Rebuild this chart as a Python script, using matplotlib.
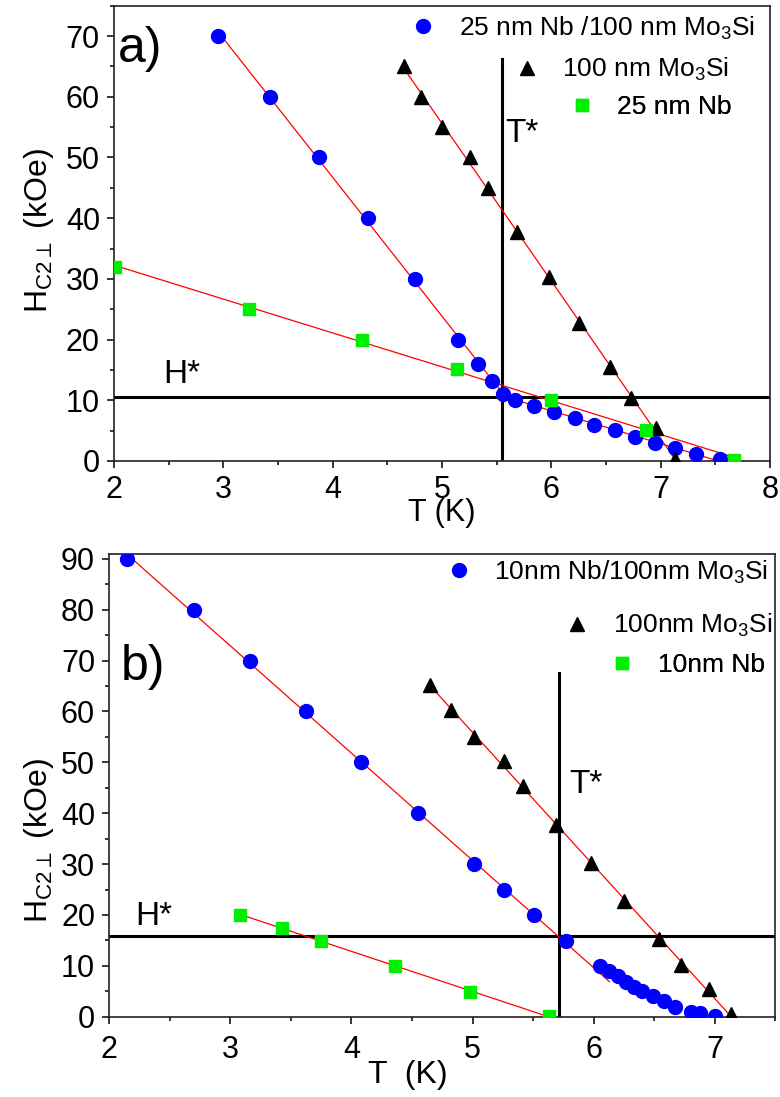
import numpy as np
import matplotlib
matplotlib.use('Agg')
import matplotlib.pyplot as plt
from matplotlib.ticker import MultipleLocator

plt.rcParams['font.family'] = ['Liberation Sans', 'DejaVu Sans']
plt.rcParams['mathtext.fontset'] = 'custom'
plt.rcParams['mathtext.rm'] = 'Liberation Sans'
plt.rcParams['mathtext.it'] = 'Liberation Sans:italic'

'''
Data read off the figure
'''

# panel a) 25 nm Nb
a_bi_T = [2.95, 3.43, 3.88, 4.32, 4.75, 5.15, 5.33, 5.46, 5.56, 5.67, 5.84, 6.03,
          6.22, 6.39, 6.58, 6.77, 6.95, 7.13, 7.32, 7.54]
a_bi_H = [70, 60, 50, 40, 30, 20, 16, 13.2, 11.1, 10, 9.1, 8.0,
          7.0, 6.0, 5.1, 4.0, 3.0, 2.1, 1.15, 0.27]
a_mo_T = [4.65, 4.81, 5.00, 5.26, 5.42, 5.69, 5.98, 6.25, 6.54, 6.73, 6.96, 7.13]
a_mo_H = [65, 60, 55, 50, 45, 37.7, 30.3, 22.8, 15.4, 10.3, 5.4, 0.3]
a_nb_T = [2.01, 3.24, 4.27, 5.14, 6.00, 6.87, 7.67]
a_nb_H = [32, 25, 20, 15.1, 10.1, 5.1, 0.2]
a_Tstar, a_Tstar_top = 5.55, 66.3
a_Hstar = 10.5

# panel b) 10 nm Nb
b_bi_T = [2.15, 2.70, 3.16, 3.63, 4.08, 4.55, 5.01, 5.26, 5.51, 5.77,
          6.05, 6.13, 6.20, 6.27, 6.33, 6.40, 6.49, 6.58, 6.67, 6.80, 6.88, 7.00]
b_bi_H = [90, 80, 70, 60, 50, 40, 30, 25, 20, 14.9,
          9.9, 9.0, 8.0, 6.9, 5.8, 5.0, 4.0, 3.0, 2.0, 1.0, 0.7, 0.15]
b_mo_T = [4.65, 4.82, 5.01, 5.26, 5.42, 5.69, 5.98, 6.25, 6.54, 6.72, 6.95, 7.13]
b_mo_H = [65.2, 60.2, 55, 50.3, 45.3, 37.7, 30.3, 22.7, 15.2, 10.2, 5.4, 0.5]
b_nb_T = [3.08, 3.43, 3.75, 4.36, 4.98, 5.63]
b_nb_H = [20, 17.5, 14.9, 10.0, 4.9, 0.1]
b_Tstar, b_Tstar_top = 5.71, 67.5
b_Hstar = 15.8

'''
Linear fits (range of T for each red line)
'''

def fit_line(T, H, n_from, n_to, T_range):
    k, b = np.polyfit(T[n_from:n_to], H[n_from:n_to], 1)
    t = np.array(T_range)
    return t, k * t + b

BLUE, GREEN = '#0000ff', '#00ee00'

def draw_panel(ax, bi, mo, nb, fits, labels, leg_pos, Tstar, Hstar, tag, tpos, hpos):
    hb, = ax.plot(*bi, 'o', color=BLUE, ms=10, zorder=4)
    hm, = ax.plot(*mo, '^', color='black', ms=10.5, zorder=4)
    hn, = ax.plot(*nb, 's', color=GREEN, ms=8.5, mec=GREEN, zorder=4)
    for t, h in fits:
        ax.plot(t, h, '-', color='red', lw=0.9, zorder=3)
    ax.axhline(Hstar, color='black', lw=2.2, zorder=2)
    ax.plot([Tstar[0], Tstar[0]], [0, Tstar[1]], color='black', lw=2.2, zorder=2)
    ax.text(tpos[0], tpos[1], 'T*', fontsize=24, va='center')
    ax.text(hpos[0], hpos[1], 'H*', fontsize=24, va='center')
    ax.text(tag[1], tag[2], tag[0], transform=ax.transAxes, fontsize=36, va='center')
    for h, lbl, (x, y) in zip([hb, hm, hn], labels, leg_pos):
        leg = ax.legend([h], [lbl], loc='center right', bbox_to_anchor=(x, y),
                        frameon=False, fontsize=19, borderpad=0, borderaxespad=0,
                        handlelength=1.0, handletextpad=0.85, numpoints=1)
        ax.add_artist(leg)
    ax.xaxis.set_minor_locator(MultipleLocator(0.5))
    ax.yaxis.set_minor_locator(MultipleLocator(5))
    ax.tick_params(which='both', direction='out', labelsize=22, width=1.1,
                   top=False, right=False)
    ax.tick_params(which='major', length=5, pad=5)
    ax.tick_params(which='minor', length=3)
    for s in ax.spines.values():
        s.set_linewidth(1.2)
        s.set_color('#222222')

fig = plt.figure(figsize=(7.8, 10.97), dpi=100)
ax1 = fig.add_axes([0.146, 0.5798, 0.841, 0.415])
ax2 = fig.add_axes([0.1397, 0.0732, 0.8545, 0.422])

a_bi_T, a_bi_H = np.array(a_bi_T), np.array(a_bi_H)
a_mo_T, a_mo_H = np.array(a_mo_T), np.array(a_mo_H)
a_nb_T, a_nb_H = np.array(a_nb_T), np.array(a_nb_H)
b_bi_T, b_bi_H = np.array(b_bi_T), np.array(b_bi_H)
b_mo_T, b_mo_H = np.array(b_mo_T), np.array(b_mo_H)
b_nb_T, b_nb_H = np.array(b_nb_T), np.array(b_nb_H)

fits_a = [fit_line(a_bi_T, a_bi_H, 0, 9, [2.95, 5.6]),
          fit_line(a_bi_T, a_bi_H, 8, 20, [5.52, 7.56]),
          fit_line(a_mo_T, a_mo_H, 0, 12, [4.65, 7.2]),
          fit_line(a_nb_T, a_nb_H, 0, 7, [2.0, 7.67])]
fits_b = [fit_line(b_bi_T, b_bi_H, 0, 10, [2.15, 6.13]),
          fit_line(b_mo_T, b_mo_H, 0, 12, [4.65, 7.2]),
          fit_line(b_nb_T, b_nb_H, 0, 6, [3.08, 5.63])]

draw_panel(ax1, (a_bi_T, a_bi_H), (a_mo_T, a_mo_H), (a_nb_T, a_nb_H), fits_a,
           ['25 nm Nb /100 nm Mo$_3$Si', '100 nm Mo$_3$Si', '25 nm Nb'],
           [(0.977, 0.951), (0.938, 0.859), (0.942, 0.777)],
           (a_Tstar, a_Tstar_top), a_Hstar, ('a)', 0.006, 0.905), (5.58, 54), (2.45, 14.3))
draw_panel(ax2, (b_bi_T, b_bi_H), (b_mo_T, b_mo_H), (b_nb_T, b_nb_H), fits_b,
           ['10nm Nb/100nm Mo$_3$Si', '100nm Mo$_3$Si', '10nm Nb'],
           [(0.989, 0.960), (0.995, 0.845), (0.984, 0.759)],
           (b_Tstar, b_Tstar_top), b_Hstar, ('b)', 0.018, 0.755), (5.8, 45.6), (2.22, 19.6))

ax1.set_xlim(2, 8)
ax1.set_ylim(0, 75)
ax1.set_xticks([2, 3, 4, 5, 6, 7, 8])
ax1.set_yticks([0, 10, 20, 30, 40, 50, 60, 70])
ax2.set_xlim(2, 7.5)
ax2.set_ylim(0, 91)
ax2.set_xticks([2, 3, 4, 5, 6, 7])
ax2.set_yticks([0, 10, 20, 30, 40, 50, 60, 70, 80, 90])
ax2.tick_params(axis='x', which='major', pad=8)

ylab = 'H$_{\\rm C2\\perp}$ (kOe)'
ax1.set_ylabel(ylab, fontsize=23)
ax1.yaxis.set_label_coords(-0.088, 0.505)
ax2.set_ylabel(ylab, fontsize=23)
ax2.yaxis.set_label_coords(-0.08, 0.38)

ax1.set_xlabel('T (K)', fontsize=22)
ax1.xaxis.set_label_coords(0.5, -0.081)
ax2.set_xlabel('T  (K)', fontsize=23)
ax2.xaxis.set_label_coords(0.449, -0.0935)

fig.savefig('out.png', dpi=100)
